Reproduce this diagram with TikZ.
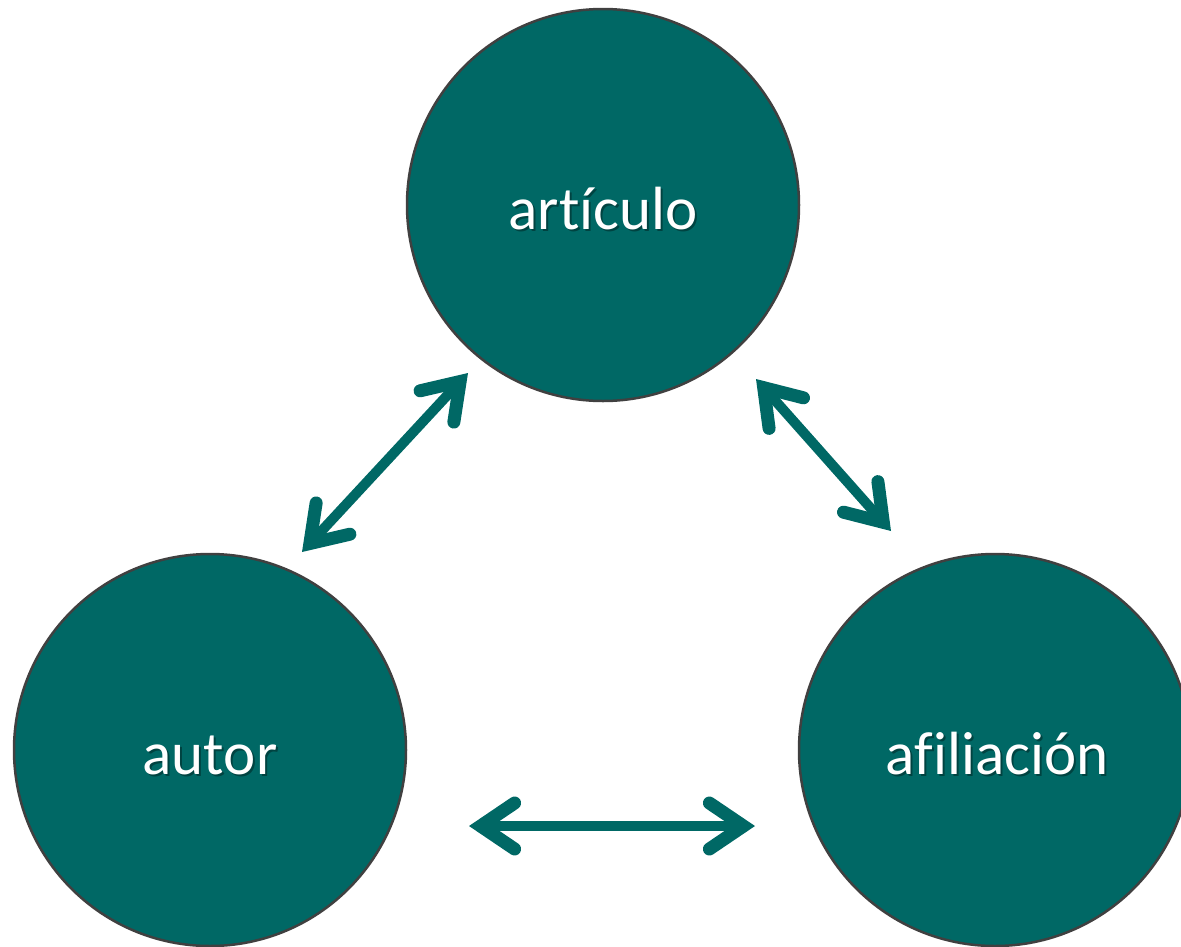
\documentclass[tikz,border=0pt]{standalone}
\usepackage{fontspec}
\setmainfont{Carlito}[Ligatures={NoCommon,NoRequired,NoContextual}]
\usetikzlibrary{arrows.meta}
\definecolor{teal1}{RGB}{0,104,101}
\definecolor{edge1}{RGB}{64,64,64}
\tikzset{
  circ/.style={circle, fill=teal1, draw=edge1, line width=2.5pt, minimum size=392pt, inner sep=0pt},
  lbl/.style={text=white, font=\fontsize{61pt}{72pt}\selectfont, anchor=base, inner sep=0pt},
  lblshadow/.style={text=black, opacity=0.35, font=\fontsize{61pt}{72pt}\selectfont, anchor=base, inner sep=0pt},
  barb/.tip={Straight Barb[length=34pt, width=46pt, line width=13pt, line cap=round, line join=miter]},
  dblarrow/.style={draw=teal1, line width=10pt, barb-barb}
}
\begin{document}
\begin{tikzpicture}[x=1pt, y=-1pt]
\useasboundingbox (0,0) rectangle (1181,946);
\node[circ] (art) at (603,205) {};
\node[circ] (aut) at (210,750) {};
\node[circ] (afi) at (995,750) {};
\node[lblshadow] (artS) at (605,231) {artículo};
\node[lbl] (artT) at (603,229) {artículo};
\node[lblshadow] (autS) at (212,776) {autor};
\node[lbl] (autT) at (210,774) {autor};
\node[lblshadow] (afiS) at (999,776) {afiliación};
\node[lbl] (afiT) at (997,774) {afiliación};
\coordinate (a1) at (302,552);
\coordinate (a2) at (468,373);
\coordinate (b1) at (756,379);
\coordinate (b2) at (891,531);
\coordinate (c1) at (469,826);
\coordinate (c2) at (755,826);
\draw[dblarrow] (a1) -- (a2);
\draw[dblarrow] (b1) -- (b2);
\draw[dblarrow] (c1) -- (c2);
\end{tikzpicture}
\end{document}
